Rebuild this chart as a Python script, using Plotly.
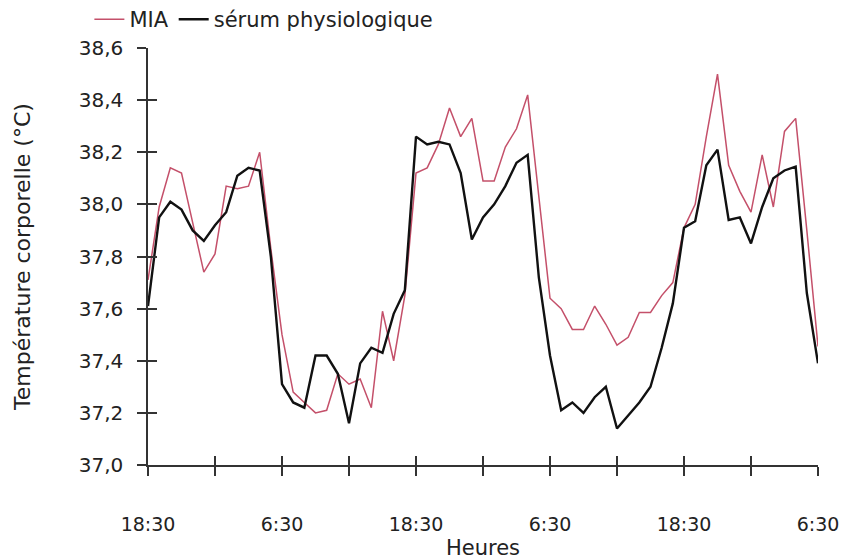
import plotly.graph_objects as go

hours = list(range(61))
mia = [37.71, 37.99, 38.14, 38.12, 37.93, 37.74, 37.81, 38.07, 38.06, 38.07,
       38.20, 37.83, 37.50, 37.28, 37.24, 37.20, 37.21, 37.35, 37.31, 37.33,
       37.22, 37.59, 37.40, 37.65, 38.12, 38.14, 38.23, 38.37, 38.26, 38.33,
       38.09, 38.09, 38.22, 38.29, 38.42, 38.03, 37.64, 37.60, 37.52, 37.52,
       37.61, 37.54, 37.46, 37.49, 37.585, 37.585, 37.65, 37.70, 37.91, 38.00,
       38.26, 38.50, 38.15, 38.05, 37.97, 38.19, 37.99, 38.28, 38.33, 37.90,
       37.455]
serum = [37.61, 37.95, 38.01, 37.98, 37.90, 37.86, 37.92, 37.97, 38.11, 38.14,
         38.13, 37.80, 37.31, 37.24, 37.22, 37.42, 37.42, 37.35, 37.16, 37.39,
         37.45, 37.43, 37.58, 37.67, 38.26, 38.23, 38.24, 38.23, 38.12, 37.865,
         37.95, 38.00, 38.07, 38.16, 38.19, 37.72, 37.42, 37.21, 37.24, 37.20,
         37.26, 37.30, 37.14, 37.19, 37.24, 37.30, 37.45, 37.62, 37.91, 37.935,
         38.15, 38.21, 37.94, 37.95, 37.85, 37.99, 38.10, 38.13, 38.145, 37.66,
         37.39]

x_tickvals = [0, 6, 12, 18, 24, 30, 36, 42, 48, 54, 60]
x_ticktext = ["18:30", "", "6:30", "", "18:30", "", "6:30", "", "18:30", "", "6:30"]
y_tickvals = [37.0, 37.2, 37.4, 37.6, 37.8, 38.0, 38.2, 38.4, 38.6]
y_ticktext = ["37,0", "37,2", "37,4", "37,6", "37,8", "38,0", "38,2", "38,4", "38,6"]

FONT = "DejaVu Sans"
AX = "#333333"
TXT = "#222222"

fig = go.Figure()
fig.add_trace(go.Scatter(x=hours, y=mia, mode="lines", name="MIA",
                         line=dict(color="#c4506a", width=1.5)))
fig.add_trace(go.Scatter(x=hours, y=serum, mode="lines", name="sérum physiologique",
                         line=dict(color="#111111", width=2.4)))
# invisible helper trace so the overlay axes (inner half of the crossing ticks) are drawn
fig.add_trace(go.Scatter(x=hours, y=serum, mode="lines", xaxis="x2", yaxis="y2",
                         line=dict(width=0), opacity=0, showlegend=False,
                         hoverinfo="skip"))

# page body has an 8px default margin, so the figure is 8px smaller and margins shifted
fig.update_layout(
    width=840, height=552,
    margin=dict(l=140, r=30, t=40, b=95, autoexpand=False),
    paper_bgcolor="white", plot_bgcolor="white",
    font=dict(family=FONT, size=20, color=TXT),
    showlegend=True,
    legend=dict(orientation="h", x=-0.0875, xanchor="left", y=1.068, yanchor="middle",
                font=dict(family=FONT, size=21, color=TXT),
                itemwidth=30, tracegroupgap=0, bgcolor="rgba(0,0,0,0)"),
    xaxis=dict(range=[0, 60], tickvals=x_tickvals, ticktext=x_ticktext,
               ticks="outside", ticklen=9, tickwidth=1.5, tickcolor=AX,
               showline=True, linecolor=AX, linewidth=1.5,
               showgrid=False, zeroline=False, automargin=False,
               tickfont=dict(family=FONT, size=19, color=TXT),
               ticklabelstandoff=32,
               title=dict(text="Heures", font=dict(family=FONT, size=21, color=TXT),
                          standoff=8)),
    yaxis=dict(range=[37.0, 38.6], tickvals=y_tickvals, ticktext=y_ticktext,
               ticks="outside", ticklen=9, tickwidth=1.5, tickcolor=AX,
               showline=True, linecolor=AX, linewidth=1.5,
               showgrid=False, zeroline=False, automargin=False,
               tickfont=dict(family=FONT, size=20, color=TXT),
               ticklabelstandoff=10,
               title=dict(text="Température corporelle (°C)",
                          font=dict(family=FONT, size=22, color=TXT),
                          standoff=42)),
    xaxis2=dict(overlaying="x", anchor="y", side="bottom", range=[0, 60],
                tickvals=x_tickvals, ticks="inside", ticklen=9, tickwidth=1.5,
                tickcolor=AX, showticklabels=False, showline=False,
                showgrid=False, zeroline=False, automargin=False),
    yaxis2=dict(overlaying="y", anchor="x", side="left", range=[37.0, 38.6],
                tickvals=y_tickvals, ticks="inside", ticklen=9, tickwidth=1.5,
                tickcolor=AX, showticklabels=False, showline=False,
                showgrid=False, zeroline=False, automargin=False),
)

fig.write_html("out.html")
